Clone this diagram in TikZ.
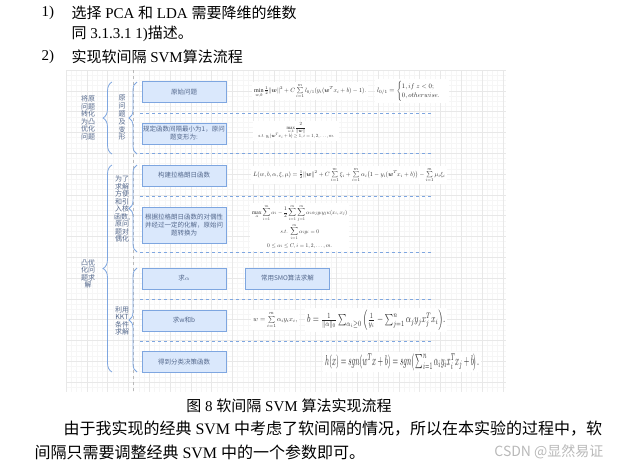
\documentclass[tikz,border=0pt]{standalone}
\usepackage{fontspec}
\usepackage{graphicx}
\usepackage{amsmath,amssymb}
\usetikzlibrary{decorations.pathreplacing}
\setmainfont{Liberation Serif}
\newfontfamily\cjk{Noto Sans CJK SC}
\definecolor{boxblue}{HTML}{DAE8FC}
\definecolor{lineblue}{HTML}{7EA6E0}
\definecolor{labelblue}{RGB}{84,104,140}
\definecolor{gridminor}{RGB}{246,246,246}
\definecolor{gridmajor}{RGB}{232,232,232}

\tikzset{
  stepbox/.style={draw=lineblue, fill=boxblue, line width=0.8pt, minimum width=84pt,
    minimum height=21pt, inner sep=1pt, align=center, text=labelblue,
    font=\cjk\fontsize{6.5}{8}\selectfont},
  grouplbl/.style={align=center, text=labelblue, font=\cjk\fontsize{7}{7.5}\selectfont},
  bracket/.style={draw=lineblue, line width=0.8pt, decorate, decoration={brace, amplitude=#1}},
  sepline/.style={draw=lineblue, dashed, line width=0.7pt},
  fml/.style={fill=white, inner sep=2pt, text=black!85, anchor=west},
}

\begin{document}
\begin{tikzpicture}[x=1pt,y=-1pt]
        \useasboundingbox (0,0) rectangle (620,474);
        % Heading lines
        \begin{scope}[font=\fontsize{15}{18}\selectfont]
            \node[anchor=west] (num1) at (38,13) {1)};
            \node[anchor=west] (head1) at (68,13) {{\cjk 选择} PCA {\cjk 和} LDA {\cjk 需要降维的维数}};
            \node[anchor=west] (head2) at (68,34) {{\cjk 同} 3.1.3.1 1){\cjk 描述。}};
            \node[anchor=west] (num2) at (38,57) {2)};
            \node[anchor=west] (head3) at (68,57) {{\cjk 实现软间隔} SVM{\cjk 算法流程}};
        \end{scope}
        % Grid background
        \fill[white] (66,70) rectangle (506,392);
        \foreach \gx in {66,71.2,...,506} \draw[gridminor, line width=0.3pt] (\gx,70) -- (\gx,392);
        \foreach \gy in {70,75.2,...,392} \draw[gridminor, line width=0.3pt] (66,\gy) -- (506,\gy);
        \foreach \gx in {66,86.8,...,506} \draw[gridmajor, line width=0.4pt] (\gx,70) -- (\gx,392);
        \foreach \gy in {70,90.8,...,392} \draw[gridmajor, line width=0.4pt] (66,\gy) -- (506,\gy);
        \draw[gray!55, dashed, line width=0.4pt] (133,70) -- (133,392);
        % Separators
        \foreach \y in {113,153,196,252,299,341} {
            \draw[sepline] (140,\y) -- (432,\y);
        }
        % Braces
        \draw[bracket=9pt] (112,154) -- (112,82);
        \draw[bracket=9pt] (112,372) -- (112,165);
        \draw[bracket=8pt] (137,154) -- (137,82);
        \draw[bracket=8pt] (137,252) -- (137,165);
        \draw[bracket=8pt] (137,372) -- (137,268);
        % Group labels
        \node[grouplbl] (convert) at (88,118) {将原\\问题\\转化\\为凸\\优化\\问题};
        \node[grouplbl] (solve) at (88,274) {凸优\\化问\\题求\\解};
        \node[grouplbl, font=\cjk\fontsize{7}{7.8}\selectfont] (primal) at (122,118) {原\\问\\题\\及\\变\\形};
        \node[grouplbl] (dualize) at (122,209) {为了\\求解\\方便\\和引\\入核\\函数,\\原问\\题对\\偶化};
        \node[grouplbl] (kkt) at (122,321) {利用\\KKT\\条件\\求解};
        % Steps
        \node[stepbox] (orig) at (184,92) {原始问题};
        \node[stepbox] (margin) at (184,133.5) {规定函数间隔最小为1，原问\\题变形为:};
        \node[stepbox] (lagr) at (184,175.5) {构建拉格朗日函数};
        \node[stepbox, minimum height=36pt] (dual) at (184,225) {根据拉格朗日函数的对偶性\\并经过一定的化解，原始问\\题转换为};
        \node[stepbox] (alpha) at (184,278.5) {求$\alpha$};
        \node[stepbox] (smo) at (287.5,278.5) {常用SMO算法求解};
        \node[stepbox] (wb) at (184,320.5) {求w和b};
        \node[stepbox] (hx) at (184,362) {得到分类决策函数};
        % Formulas
        \node[fml] (f1) at (252,91)
            {\resizebox{112pt}{!}{$\min\limits_{w,b}\frac12\|\boldsymbol{w}\|^2+C\sum\limits_{i=1}^{m}l_{0/1}(y_i(\boldsymbol{w}^Tx_i+b)-1).$}};
        \node[fml] (f1b) at (375,91)
            {\resizebox{70pt}{!}{$l_{0/1}=\begin{cases}1, if\ z<0;\\0, otherwise.\end{cases}$}};
        \node[fml] (f2) at (253,131)
            {\resizebox{82pt}{!}{\begin{tabular}{c}$\max\limits_{w,b}\dfrac{2}{\|\boldsymbol{w}\|}$\\ $s.t.\ y_i(\boldsymbol{w}^Tx_i+b)\ge1, i=1,2,\dots,m.$\end{tabular}}};
        \node[fml] (f3) at (251,175)
            {\resizebox{192pt}{!}{$L(w,b,\alpha,\xi,\mu)=\frac12\|\boldsymbol{w}\|^2+C\sum\limits_{i=1}^m\xi_i+\sum\limits_{i=1}^m\alpha_i\big(1-y_i(\boldsymbol{w}^Tx_i+b)\big)-\sum\limits_{i=1}^m\mu_i\xi_i$}};
        \node[fml] (f4) at (250,227)
            {\resizebox{95pt}{!}{$\begin{gathered}\max_{\alpha}\sum_{i=1}^m\alpha_i-\frac12\sum_{i=1}^m\sum_{j=1}^m\alpha_i\alpha_jy_iy_j\kappa(x_i,x_j)\\ s.t.\ \sum_{i=1}^m\alpha_iy_i=0\\ 0\le\alpha_i\le C, i=1,2,\dots,m.\end{gathered}$}};
        \node[fml] (f5a) at (251,320)
            {\resizebox{44pt}{!}{$w=\sum\limits_{i=1}^m\alpha_iy_ix_i,$}};
        \node[fml] (f5b) at (305,320)
            {\resizebox{138pt}{13pt}{$b=\frac{1}{\|\alpha\|_0}\sum_{\alpha_i\ge0}\Big(\frac{1}{y_i}-\sum_{j=1}^n\alpha_jy_jx_j^Tx_i\Big).$}};
        \node[fml] (f6) at (323,362)
            {\resizebox{154pt}{12pt}{$h(x)=sgn(w^Tx+b)=sgn\big(\sum_{i=1}^n\alpha_iy_ix_i^Tx_j+b\big).$}};
        % Caption and paragraph
        \node (caption) at (289,406) {\fontsize{15}{18}\selectfont{\cjk 图} 8 {\cjk 软间隔} SVM {\cjk 算法实现流程}};
        \node[anchor=west] (para1) at (60,429) {\fontsize{16}{19}\selectfont{\cjk 由于我实现的经典} SVM {\cjk 中考虑了软间隔的情况，所以在本实验的过程中，软}};
        \node[anchor=west] (para2) at (31,452) {\fontsize{16}{19}\selectfont{\cjk 间隔只需要调整经典} SVM {\cjk 中的一个参数即可。}};
        \node[anchor=east, text=gray!55] (mark) at (607,452) {\cjk\fontsize{14}{16}\selectfont CSDN @显然易证};
\end{tikzpicture}
\end{document}
